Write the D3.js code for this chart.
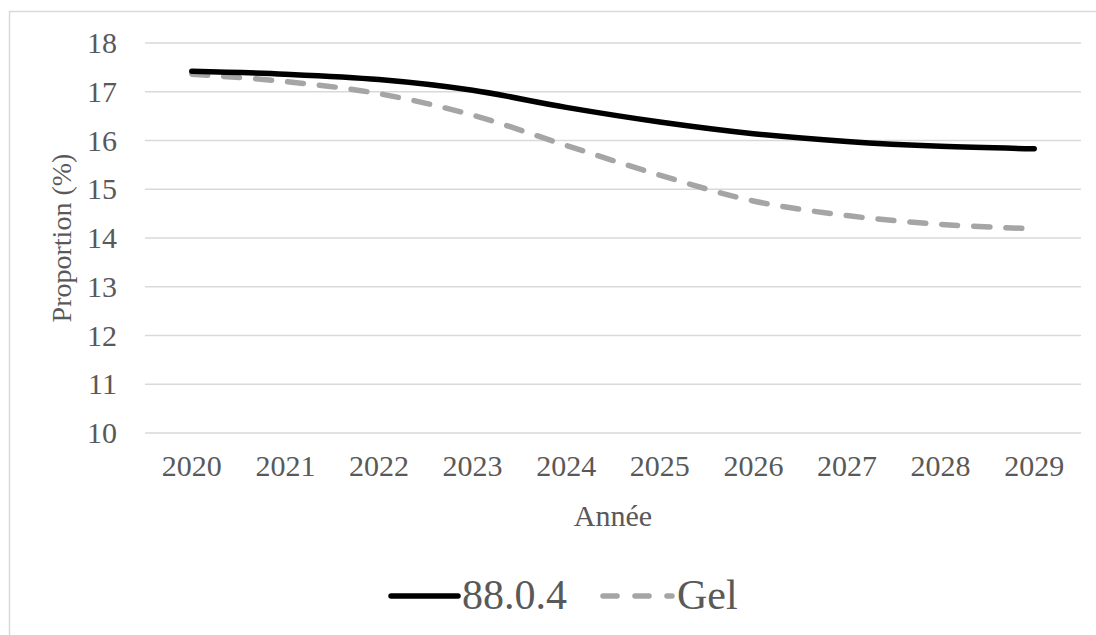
<!DOCTYPE html>
<html>
<head>
<meta charset="utf-8">
<script src="https://cdn.jsdelivr.net/npm/d3@7"></script>
<style>
  html, body { margin: 0; padding: 0; background: #fff; }
  svg { display: block; }
  text { font-family: "Liberation Serif", "Times New Roman", serif; fill: #595959; }
</style>
</head>
<body>
<svg id="chart" width="1096" height="635"></svg>
<script>
// Projected proportion (%) by year for two scenarios
const years = ["2020", "2021", "2022", "2023", "2024", "2025", "2026", "2027", "2028", "2029"];
const series88 = [17.42, 17.36, 17.25, 17.03, 16.68, 16.38, 16.14, 15.98, 15.88, 15.83];
const seriesGel = [17.36, 17.21, 16.96, 16.52, 15.90, 15.29, 14.76, 14.46, 14.28, 14.19];
const yTicks = [10, 11, 12, 13, 14, 15, 16, 17, 18];
const seriesNames = ["88.0.4", "Gel"];

const svg = d3.select("#chart");
const plot = { left: 145, right: 1081, top: 43, bottom: 433 };

// Chart-area frame (light border)
svg.append("rect")
  .attr("x", 9.5).attr("y", 11.5)
  .attr("width", 1200).attr("height", 800)
  .attr("fill", "none").attr("stroke", "#d9d9d9").attr("stroke-width", 1.5);

const x = d3.scaleBand().domain(years).range([plot.left, plot.right]);
const y = d3.scaleLinear().domain([10, 18]).range([plot.bottom, plot.top]);

// Horizontal gridlines
svg.append("g").selectAll("line").data(yTicks).join("line")
  .attr("x1", plot.left).attr("x2", plot.right)
  .attr("y1", d => y(d)).attr("y2", d => y(d))
  .attr("stroke", "#d9d9d9").attr("stroke-width", 1.5);

// Y axis labels
const yAxis = svg.append("g")
  .attr("transform", `translate(${plot.left - 28},0)`)
  .call(d3.axisLeft(y).tickValues(yTicks).tickSize(0).tickPadding(0));
yAxis.select(".domain").remove();
yAxis.selectAll("text")
  .attr("font-size", 30).attr("fill", "#595959")
  .attr("font-family", "'Liberation Serif', 'Times New Roman', serif");

// X axis labels
const xAxis = svg.append("g")
  .attr("transform", `translate(0,${plot.bottom + 22})`)
  .call(d3.axisBottom(x).tickSize(0).tickPadding(0));
xAxis.select(".domain").remove();
xAxis.selectAll("text")
  .attr("font-size", 30).attr("fill", "#595959")
  .attr("font-family", "'Liberation Serif', 'Times New Roman', serif");

// Axis titles
svg.append("text")
  .attr("x", (plot.left + plot.right) / 2).attr("y", 526)
  .attr("text-anchor", "middle").attr("font-size", 30)
  .text("Année");
svg.append("text")
  .attr("transform", `translate(71,${(plot.top + plot.bottom) / 2}) rotate(-90)`)
  .attr("text-anchor", "middle").attr("font-size", 28)
  .text("Proportion (%)");

// Lines
const line = d3.line()
  .x((d, i) => x(years[i]) + x.bandwidth() / 2)
  .y(d => y(d))
  .curve(d3.curveCatmullRom.alpha(0.5));

svg.append("path").datum(seriesGel)
  .attr("d", line).attr("fill", "none")
  .attr("stroke", "#a5a5a5").attr("stroke-width", 5.5)
  .attr("stroke-linecap", "round").attr("stroke-dasharray", "16,16");

svg.append("path").datum(series88)
  .attr("d", line).attr("fill", "none")
  .attr("stroke", "#000").attr("stroke-width", 5.5)
  .attr("stroke-linecap", "round");

// Legend
const ly = 596;
const legend = svg.append("g");
legend.append("line")
  .attr("x1", 391).attr("x2", 458).attr("y1", ly).attr("y2", ly)
  .attr("stroke", "#000").attr("stroke-width", 5.5).attr("stroke-linecap", "round");
legend.append("text")
  .attr("x", 462).attr("y", 609).attr("font-size", 42)
  .text(seriesNames[0]);
legend.append("line")
  .attr("x1", 603).attr("x2", 672).attr("y1", ly).attr("y2", ly)
  .attr("stroke", "#a5a5a5").attr("stroke-width", 5.5).attr("stroke-linecap", "round")
  .attr("stroke-dasharray", "14,18");
legend.append("text")
  .attr("x", 677).attr("y", 609).attr("font-size", 42)
  .text(seriesNames[1]);
</script>
</body>
</html>
